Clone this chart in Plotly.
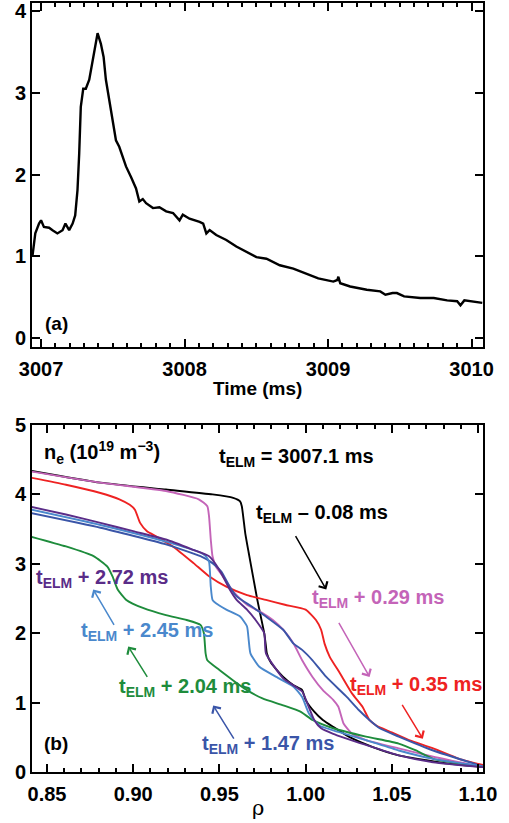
import plotly.graph_objects as go
from plotly.subplots import make_subplots

# ---------------- panel (a) data ----------------
time_ms = [3006.94, 3006.96, 3006.986, 3007.0, 3007.02, 3007.056, 3007.08, 3007.114, 3007.15,
           3007.17, 3007.196, 3007.22, 3007.238, 3007.254, 3007.266, 3007.277, 3007.294, 3007.312,
           3007.336, 3007.359, 3007.394, 3007.417, 3007.436, 3007.452, 3007.476, 3007.499, 3007.522,
           3007.545, 3007.573, 3007.592, 3007.627, 3007.662, 3007.685, 3007.709, 3007.732, 3007.78,
           3007.825, 3007.872, 3007.92, 3007.965, 3007.988, 3008.035, 3008.105, 3008.13, 3008.152,
           3008.175, 3008.221, 3008.291, 3008.361, 3008.431, 3008.501, 3008.571, 3008.664, 3008.758,
           3008.851, 3008.932, 3009.037, 3009.065, 3009.072, 3009.085, 3009.154, 3009.27, 3009.364,
           3009.4, 3009.45, 3009.48, 3009.53, 3009.6, 3009.643, 3009.737, 3009.83, 3009.9, 3009.923,
           3009.95, 3010.075]
signal = [1.00, 1.28, 1.40, 1.44, 1.36, 1.35, 1.32, 1.28, 1.32,
          1.40, 1.32, 1.40, 1.50, 1.81, 2.26, 2.83, 3.05, 3.05,
          3.16, 3.40, 3.73, 3.60, 3.44, 3.16, 2.91, 2.71, 2.42,
          2.34, 2.18, 2.10, 1.97, 1.83, 1.67, 1.70, 1.65, 1.59,
          1.60, 1.55, 1.53, 1.44, 1.51, 1.46, 1.42, 1.40, 1.28,
          1.32, 1.26, 1.20, 1.12, 1.06, 0.99, 0.97, 0.89, 0.85,
          0.79, 0.73, 0.69, 0.71, 0.75, 0.67, 0.63, 0.59, 0.57,
          0.53, 0.55, 0.55, 0.51, 0.50, 0.49, 0.49, 0.46, 0.45, 0.40,
          0.46, 0.43]

# ---------------- panel (b) data ----------------
rho_m008 = [0.841, 0.881, 0.919, 0.946, 0.958, 0.962, 0.963, 0.965, 0.967, 0.9695, 0.972, 0.974,
            0.976, 0.977, 0.9775, 0.980, 0.987, 0.993, 0.998, 1.0, 1.005, 1.010, 1.016, 1.025,
            1.039, 1.054, 1.07, 1.083, 1.103]
ne_m008 = [4.34, 4.17, 4.07, 4.00, 3.95, 3.90, 3.83, 3.44, 3.16, 2.82, 2.48, 2.24,
           2.00, 1.81, 1.71, 1.57, 1.37, 1.25, 1.18, 1.04, 0.87, 0.75, 0.65, 0.51,
           0.36, 0.24, 0.17, 0.12, 0.07]

rho_p029 = [0.841, 0.881, 0.919, 0.938, 0.943, 0.944, 0.945, 0.946, 0.948, 0.952, 0.958, 0.966,
            0.975, 0.981, 0.987, 0.993, 0.998, 1.004, 1.010, 1.016, 1.019, 1.022, 1.027, 1.035,
            1.054, 1.074, 1.103]
ne_p029 = [4.33, 4.17, 4.05, 3.93, 3.83, 3.68, 3.35, 3.11, 2.96, 2.82, 2.60, 2.41,
           2.29, 2.19, 2.05, 1.85, 1.61, 1.37, 1.18, 1.04, 0.94, 0.70, 0.55, 0.46,
           0.34, 0.22, 0.07]

rho_p035 = [0.841, 0.861, 0.881, 0.892, 0.898, 0.901, 0.904, 0.908, 0.913, 0.923, 0.935, 0.944,
            0.954, 0.966, 0.977, 0.988, 1.0, 1.006, 1.009, 1.011, 1.014, 1.020, 1.027, 1.033,
            1.037, 1.041, 1.049, 1.060, 1.074, 1.089, 1.103]
ne_p035 = [4.24, 4.14, 4.02, 3.93, 3.85, 3.78, 3.59, 3.47, 3.40, 3.25, 3.01, 2.82,
           2.67, 2.55, 2.48, 2.41, 2.34, 2.19, 2.05, 1.85, 1.66, 1.42, 1.13, 0.94,
           0.75, 0.67, 0.58, 0.46, 0.34, 0.19, 0.10]

rho_p147 = [0.841, 0.881, 0.919, 0.939, 0.946, 0.951, 0.956, 0.960, 0.969, 0.977, 0.987, 0.993,
            0.998, 1.004, 1.012, 1.024, 1.031, 1.037, 1.043, 1.054, 1.074, 1.103]
ne_p147 = [3.73, 3.52, 3.28, 3.11, 3.01, 2.89, 2.67, 2.53, 2.38, 2.24, 2.05, 1.85,
           1.76, 1.61, 1.37, 1.08, 0.89, 0.75, 0.63, 0.51, 0.31, 0.08]

rho_p204 = [0.841, 0.861, 0.877, 0.885, 0.888, 0.891, 0.896, 0.906, 0.919, 0.931, 0.939, 0.941,
            0.942, 0.943, 0.950, 0.958, 0.966, 0.975, 0.987, 0.997, 1.004, 1.016, 1.035, 1.054,
            1.064, 1.074, 1.103]
ne_p204 = [3.39, 3.25, 3.11, 2.96, 2.82, 2.63, 2.48, 2.36, 2.26, 2.19, 2.12, 2.00,
           1.71, 1.61, 1.47, 1.32, 1.18, 1.06, 0.96, 0.87, 0.75, 0.63, 0.51, 0.41,
           0.31, 0.19, 0.07]

rho_p245 = [0.841, 0.881, 0.919, 0.939, 0.942, 0.944, 0.945, 0.946, 0.948, 0.954, 0.962, 0.966,
            0.967, 0.968, 0.973, 0.983, 0.993, 0.998, 1.002, 1.008, 1.016, 1.035, 1.054, 1.074,
            1.103]
ne_p245 = [3.78, 3.56, 3.32, 3.16, 3.11, 3.03, 2.67, 2.48, 2.43, 2.34, 2.24, 2.10,
           1.90, 1.71, 1.52, 1.37, 1.23, 1.08, 0.84, 0.67, 0.60, 0.46, 0.31, 0.19,
           0.08]

rho_p272 = [0.841, 0.861, 0.881, 0.900, 0.919, 0.935, 0.944, 0.948, 0.952, 0.956, 0.960, 0.966,
            0.971, 0.976, 0.977, 0.987, 0.998, 1.001, 1.005, 1.009, 1.016, 1.035, 1.054, 1.074,
            1.103]
ne_p272 = [3.82, 3.71, 3.59, 3.47, 3.35, 3.20, 3.11, 2.99, 2.82, 2.63, 2.48, 2.34,
           2.19, 2.00, 1.71, 1.35, 1.16, 0.99, 0.75, 0.63, 0.55, 0.39, 0.24, 0.14,
           0.07]

series = [
    (rho_m008, ne_m008, "#000000"),
    (rho_p029, ne_p029, "#C464B8"),
    (rho_p035, ne_p035, "#EE2222"),
    (rho_p147, ne_p147, "#3A55A8"),
    (rho_p204, ne_p204, "#1E8C3C"),
    (rho_p245, ne_p245, "#4A88CC"),
    (rho_p272, ne_p272, "#5A2C88"),
]

# labels: (text, rho, ne, color)
labels = [
    ("t<sub>ELM</sub> = 3007.1 ms", 0.995, 4.53, "#000000"),
    ("t<sub>ELM</sub> \u2013 0.08 ms", 1.0095, 3.73, "#000000"),
    ("t<sub>ELM</sub> + 0.29 ms", 1.042, 2.50, "#C464B8"),
    ("t<sub>ELM</sub> + 0.35 ms", 1.064, 1.25, "#EE2222"),
    ("t<sub>ELM</sub> + 2.72 ms", 0.882, 2.79, "#5A2C88"),
    ("t<sub>ELM</sub> + 2.45 ms", 0.908, 2.02, "#4A88CC"),
    ("t<sub>ELM</sub> + 2.04 ms", 0.930, 1.22, "#1E8C3C"),
    ("t<sub>ELM</sub> + 1.47 ms", 0.978, 0.39, "#3A55A8"),
]

# arrows: (tail_rho, tail_ne, head_rho, head_ne, color)
arrows = [
    (0.9937, 3.42, 1.0120, 2.63, "#000000"),
    (1.0188, 2.17, 1.0371, 1.37, "#C464B8"),
    (1.0555, 0.99, 1.0680, 0.48, "#EE2222"),
    (0.8894, 2.10, 0.8768, 2.63, "#4A88CC"),
    (0.9087, 1.35, 0.8971, 1.81, "#1E8C3C"),
    (0.9589, 0.46, 0.9464, 0.96, "#3A55A8"),
]

FONT = "Liberation Sans, Arial, sans-serif"

fig = make_subplots(rows=2, cols=1, vertical_spacing=0.1)

fig.add_trace(go.Scatter(x=time_ms, y=signal, mode="lines",
                         line=dict(color="black", width=2.4), showlegend=False), row=1, col=1)

for rx, ny, col in series:
    fig.add_trace(go.Scatter(x=rx, y=ny, mode="lines",
                             line=dict(color=col, width=1.9, shape="spline", smoothing=0.5),
                             showlegend=False), row=2, col=1)

anns = []
for txt, x, y, col in labels:
    anns.append(dict(x=x, y=y, xref="x2", yref="y2", text=txt, showarrow=False,
                     font=dict(family=FONT, size=20, color=col, weight="bold")))
for tx, ty, hx, hy, col in arrows:
    anns.append(dict(x=hx, y=hy, ax=tx, ay=ty, xref="x2", yref="y2", axref="x2", ayref="y2",
                     text="", showarrow=True, arrowhead=4, arrowsize=1.3, arrowwidth=1.5,
                     arrowcolor=col))
anns.append(dict(x=0.847, y=4.60, xref="x2", yref="y2", xanchor="left",
                 text="n<sub>e</sub> (10<sup>19</sup> m<sup>\u22123</sup>)", showarrow=False,
                 font=dict(family=FONT, size=20, color="black", weight="bold")))
anns.append(dict(x=0.855, y=0.41, xref="x2", yref="y2", text="(b)", showarrow=False,
                 font=dict(family=FONT, size=19, color="black", weight="bold")))
anns.append(dict(x=3007.105, y=0.18, xref="x", yref="y", text="(a)", showarrow=False,
                 font=dict(family=FONT, size=19, color="black", weight="bold")))
# axis titles as annotations (paper coords)
anns.append(dict(x=0.5, y=-0.047, xref="paper", yref="paper", text="\u03c1", showarrow=False,
                 xanchor="center", yanchor="middle",
                 font=dict(family="DejaVu Serif, serif", size=21, color="black")))
anns.append(dict(x=0.5, y=(772 - 388) / 769, xref="paper", yref="paper", text="Time (ms)",
                 showarrow=False, xanchor="center", yanchor="middle",
                 font=dict(family=FONT, size=19, color="black", weight="bold")))

fig.update_layout(
    width=509, height=823,
    margin=dict(l=32, r=26, t=3, b=51, autoexpand=False),
    paper_bgcolor="white", plot_bgcolor="white",
    annotations=anns,
    font=dict(family=FONT, size=19, color="black"),
)

axis_common = dict(showline=True, linecolor="black", linewidth=2, mirror="ticks",
                   ticks="inside", ticklen=8, tickwidth=2, tickcolor="black",
                   showgrid=False, zeroline=False, automargin=False,
                   tickfont=dict(family=FONT, size=20, color="black", weight="bold"))

fig.update_xaxes(**axis_common, row=1, col=1, range=[3006.937, 3010.08], tickvals=[3007, 3008, 3009, 3010],
                 ticklabelstandoff=3,
                 minor=dict(dtick=0.1, tick0=3007, ticks="inside", ticklen=4, tickwidth=1.5, tickcolor="black"),
                 domain=[0, 1])
fig.update_yaxes(**axis_common, row=1, col=1, range=[-0.11, 4.1], tickvals=[0, 1, 2, 3, 4],
                 domain=[0.5527, 1.0])
fig.update_xaxes(**axis_common, row=2, col=1, range=[0.8413, 1.1029],
                 tickvals=[0.85, 0.90, 0.95, 1.00, 1.05, 1.10],
                 ticktext=["0.85", "0.90", "0.95", "1.00", "1.05", "1.10"],
                 ticklabelstandoff=3,
                 minor=dict(dtick=0.01, tick0=0.85, ticks="inside", ticklen=4, tickwidth=1.5, tickcolor="black"),
                 domain=[0, 1])
fig.update_yaxes(**axis_common, row=2, col=1, range=[0, 5], tickvals=[0, 1, 2, 3, 4, 5],
                 domain=[0, 0.4512])

fig.write_html("out.html", config={"displayModeBar": False},
               post_script="document.body.style.margin='0';")
